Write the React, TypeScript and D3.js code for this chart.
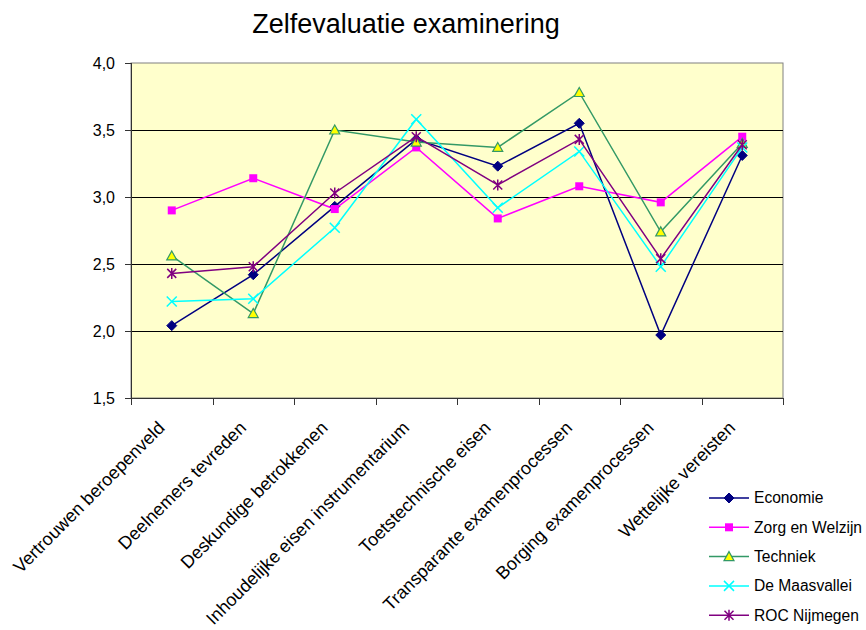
import * as d3 from 'd3';

const categories = [
  'Vertrouwen beroepenveld',
  'Deelnemers tevreden',
  'Deskundige betrokkenen',
  'Inhoudelijke eisen instrumentarium',
  'Toetstechnische eisen',
  'Transparante examenprocessen',
  'Borging examenprocessen',
  'Wettelijke vereisten',
];

const economie = [2.04, 2.42, 2.93, 3.43, 3.23, 3.55, 1.97, 3.31];
const zorgWelzijn = [2.90, 3.14, 2.91, 3.37, 2.84, 3.08, 2.96, 3.45];
const techniek = [2.56, 2.13, 3.50, 3.41, 3.37, 3.78, 2.74, 3.40];
const maasvallei = [2.22, 2.24, 2.77, 3.58, 2.92, 3.34, 2.48, 3.37];
const rocNijmegen = [2.43, 2.48, 3.03, 3.45, 3.09, 3.43, 2.54, 3.39];

const yTicks = [1.5, 2.0, 2.5, 3.0, 3.5, 4.0];

const series = [
  { name: 'Economie', values: economie, color: '#000080', marker: 'diamond' },
  { name: 'Zorg en Welzijn', values: zorgWelzijn, color: '#FF00FF', marker: 'square' },
  { name: 'Techniek', values: techniek, color: '#339966', marker: 'triangle' },
  { name: 'De Maasvallei', values: maasvallei, color: '#00FFFF', marker: 'x' },
  { name: 'ROC Nijmegen', values: rocNijmegen, color: '#800080', marker: 'star' },
];

const W = 866;
const H = 630;
const plot = { left: 131, right: 783, top: 63, bottom: 398 };
const font = '"Liberation Sans", Arial, sans-serif';

function Marker({ type, color, x, y }: { type: string; color: string; x: number; y: number }) {
  const t = `translate(${x},${y})`;
  if (type === 'diamond') return <path transform={t} d="M0,-5L5,0L0,5L-5,0Z" fill={color} stroke={color} />;
  if (type === 'square') return <rect transform={t} x={-4} y={-4} width={8} height={8} fill={color} />;
  if (type === 'triangle')
    return <path transform={t} d="M0,-5L5,4L-5,4Z" fill="#FFFF00" stroke={color} strokeWidth={1.2} />;
  if (type === 'x') return <path transform={t} d="M-5,-5L5,5M-5,5L5,-5" stroke={color} strokeWidth={1.5} fill="none" />;
  return <path transform={t} d="M-4.5,-4.5L4.5,4.5M-4.5,4.5L4.5,-4.5M0,-5.5L0,5.5" stroke={color} strokeWidth={1.5} fill="none" />;
}

export default function App() {
  const x = d3.scaleBand<string>().domain(categories).range([plot.left, plot.right]);
  const y = d3.scaleLinear().domain([1.5, 4.0]).range([plot.bottom, plot.top]);
  const cx = (c: string) => (x(c) as number) + x.bandwidth() / 2;
  const fmt = (v: number) => v.toFixed(1).replace('.', ',');

  const line = d3
    .line<number>()
    .x((_, i) => cx(categories[i]))
    .y((d) => y(d));

  const boundaries = categories.map((c) => x(c) as number).concat([plot.right]);

  return (
    <svg
      width={W}
      height={H}
      style={{ position: 'absolute', left: 0, top: 0, background: '#fff' }}
      fontFamily={font}
    >
      <text x={406} y={33} textAnchor="middle" fontSize={27} fill="#000">
        Zelfevaluatie examinering
      </text>

      <rect
        x={plot.left}
        y={plot.top}
        width={plot.right - plot.left}
        height={plot.bottom - plot.top}
        fill="#FFFFCC"
        stroke="#808080"
        strokeWidth={1}
      />

      {yTicks
        .filter((v) => v > 1.5 && v < 4.0)
        .map((v) => (
          <line key={v} x1={plot.left} x2={plot.right} y1={Math.round(y(v)) + 0.5} y2={Math.round(y(v)) + 0.5} stroke="#000" />
        ))}

      {/* y axis */}
      <line x1={plot.left + 0.5} x2={plot.left + 0.5} y1={plot.top} y2={plot.bottom} stroke="#333" />
      {yTicks.map((v) => (
        <g key={v}>
          <line x1={plot.left - 6} x2={plot.left} y1={Math.round(y(v)) + 0.5} y2={Math.round(y(v)) + 0.5} stroke="#333" />
          <text x={115} y={y(v)} dy="0.35em" textAnchor="end" fontSize={16} fill="#000">
            {fmt(v)}
          </text>
        </g>
      ))}

      {/* x axis */}
      <line x1={plot.left} x2={plot.right} y1={plot.bottom + 0.5} y2={plot.bottom + 0.5} stroke="#333" />
      {boundaries.map((b, i) => (
        <line key={i} x1={Math.round(b) + 0.5} x2={Math.round(b) + 0.5} y1={plot.bottom} y2={plot.bottom + 7} stroke="#333" />
      ))}
      {categories.map((c) => (
        <text
          key={c}
          transform={`translate(${cx(c) - 6},${429}) rotate(-45)`}
          textAnchor="end"
          fontSize={18}
          fill="#000"
        >
          {c}
        </text>
      ))}

      {series.map((s) => (
        <g key={s.name}>
          <path d={line(s.values) as string} fill="none" stroke={s.color} strokeWidth={1.5} />
          {s.values.map((v, i) => (
            <Marker key={i} type={s.marker} color={s.color} x={cx(categories[i])} y={y(v)} />
          ))}
        </g>
      ))}

      {/* legend */}
      {series.map((s, i) => {
        const ly = 498 + i * 29.3;
        return (
          <g key={s.name}>
            <line x1={709} x2={749} y1={ly} y2={ly} stroke={s.color} strokeWidth={1.5} />
            <Marker type={s.marker} color={s.color} x={729} y={ly} />
            <text x={754} y={ly} dy="0.35em" fontSize={15.6} fill="#000">
              {s.name}
            </text>
          </g>
        );
      })}
    </svg>
  );
}
